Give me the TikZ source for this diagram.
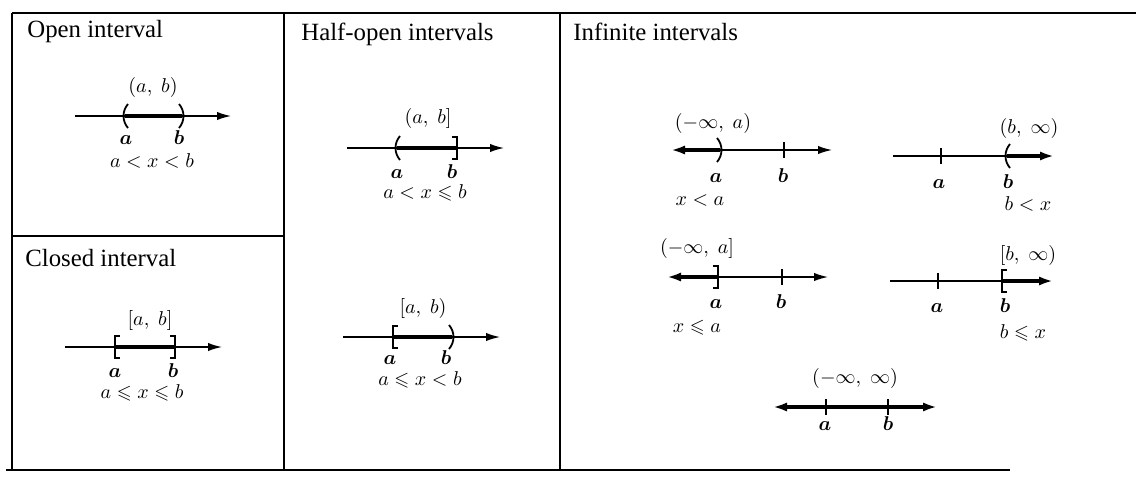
\documentclass[tikz,border=0pt]{standalone}
\usepackage{amsmath}
\usepackage{amssymb}
\usepackage{fontspec}
\setmainfont{Liberation Serif}
\usetikzlibrary{arrows.meta,calc}
% end marks on a number line, #1 = the point on the line
\newcommand{\opnL}[1]{\draw[mk] ($(#1)+(3,-12)$) .. controls ($(#1)+(-3,-5)$) and ($(#1)+(-3,5)$) .. ($(#1)+(3,12)$);}
\newcommand{\opnR}[1]{\draw[mk] ($(#1)+(-3,-12)$) .. controls ($(#1)+(3,-5)$) and ($(#1)+(3,5)$) .. ($(#1)+(-3,12)$);}
\newcommand{\clsL}[1]{\draw[mk] ($(#1)+(5,-11)$) -| ($(#1)+(0,11)$) -- ++(5,0);}
\newcommand{\clsR}[1]{\draw[mk] ($(#1)+(-5,-11)$) -| ($(#1)+(0,11)$) -- ++(-5,0);}
\newcommand{\tck}[1]{\draw[mk] ($(#1)+(0,-8)$) -- ($(#1)+(0,8)$);}

\begin{document}
\begin{tikzpicture}[x=0.5pt, y=-0.5pt, line cap=butt, line join=miter,
  frame/.style={line width=1pt},
  ttl/.style={font=\fontsize{12.4}{14}\selectfont, anchor=base west, inner sep=0pt},
  ivl/.style={font=\fontsize{9.6}{11}\selectfont, anchor=base, inner sep=0pt},
  endlbl/.style={font=\fontsize{9.6}{11}\selectfont, anchor=base, inner sep=0pt},
  axis/.style={line width=0.75pt, -{Latex[length=7pt,width=4.2pt]}},
  ray/.style={line width=1.7pt},
  rayR/.style={line width=1.7pt, -{Latex[length=7pt,width=4.6pt]}},
  rayL/.style={line width=1.7pt, {Latex[length=7pt,width=4.6pt]}-},
  mk/.style={line width=0.9pt}]
\useasboundingbox (0,0) rectangle (1146,483);

% ---------------------------------------------------------------- frame
\draw[frame] (12,13) -- (1136,13);
\draw[frame] (12,13) -- (12,470);
\draw[frame] (6,470) -- (1010,470);
\draw[frame] (284,13) -- (284,470);
\draw[frame] (560,13) -- (560,470);
\draw[frame] (12,236) -- (284,236);

\node[ttl] (t-open) at (27,37) {Open interval};
\node[ttl] (t-closed) at (25,266) {Closed interval};
\node[ttl] (t-half) at (301,40) {Half-open intervals};
\node[ttl] (t-inf) at (573,40) {Infinite intervals};

% ---------------------------------------------------------------- open
\coordinate (o-s) at (75,116); \coordinate (o-e) at (231,116);
\coordinate (o-a) at (125,116); \coordinate (o-b) at (182,116);
\draw[axis] (o-s) -- (o-e);
\draw[ray] (o-a) -- (o-b);
\opnL{o-a} \opnR{o-b}
\node[ivl] (o-lab) at (153,92) {$(a,\;b)$};
\node[endlbl] (o-la) at (126,144) {$\boldsymbol{a}$};
\node[endlbl] (o-lb) at (179,144) {$\boldsymbol{b}$};
\node[ivl] (o-cond) at (152,167) {$a<x<b$};

% ---------------------------------------------------------------- closed
\coordinate (c-s) at (65,347); \coordinate (c-e) at (222,347);
\coordinate (c-a) at (115,347); \coordinate (c-b) at (175,347);
\draw[axis] (c-s) -- (c-e);
\draw[ray] (c-a) -- (c-b);
\clsL{c-a} \clsR{c-b}
\node[ivl] (c-lab) at (150,325) {$[a,\;b]$};
\node[endlbl] (c-la) at (115,377) {$\boldsymbol{a}$};
\node[endlbl] (c-lb) at (173,377) {$\boldsymbol{b}$};
\node[ivl] (c-cond) at (142,398) {$a\leqslant x\leqslant b$};

% ---------------------------------------------------------------- half-open
\coordinate (h1-s) at (347,148); \coordinate (h1-e) at (504,148);
\coordinate (h1-a) at (397,148); \coordinate (h1-b) at (457,148);
\draw[axis] (h1-s) -- (h1-e);
\draw[ray] (h1-a) -- (h1-b);
\opnL{h1-a} \clsR{h1-b}
\node[ivl] (h1-lab) at (428,123) {$(a,\;b]$};
\node[endlbl] (h1-la) at (397,178) {$\boldsymbol{a}$};
\node[endlbl] (h1-lb) at (452,178) {$\boldsymbol{b}$};
\node[ivl] (h1-cond) at (425,198) {$a<x\leqslant b$};

\coordinate (h2-s) at (343,337); \coordinate (h2-e) at (500,337);
\coordinate (h2-a) at (393,337); \coordinate (h2-b) at (452,337);
\draw[axis] (h2-s) -- (h2-e);
\draw[ray] (h2-a) -- (h2-b);
\clsL{h2-a} \opnR{h2-b}
\node[ivl] (h2-lab) at (423,313) {$[a,\;b)$};
\node[endlbl] (h2-la) at (390,364) {$\boldsymbol{a}$};
\node[endlbl] (h2-lb) at (446,364) {$\boldsymbol{b}$};
\node[ivl] (h2-cond) at (420,385) {$a\leqslant x<b$};

% ---------------------------------------------------------------- infinite
% (-inf, a)
\coordinate (i1-s) at (671,150); \coordinate (i1-e) at (832,150);
\coordinate (i1-a) at (720,150); \coordinate (i1-b) at (784,150);
\draw[axis] (i1-a) -- (i1-e);
\draw[rayL] (i1-s) -- (i1-a);
\opnR{i1-a} \tck{i1-b}
\node[ivl] (i1-lab) at (713,128) {$(-\infty,\;a)$};
\node[endlbl] (i1-la) at (716,182) {$\boldsymbol{a}$};
\node[endlbl] (i1-lb) at (783,182) {$\boldsymbol{b}$};
\node[ivl] (i1-cond) at (700,205) {$x<a$};

% (-inf, a]
\coordinate (i2-s) at (667,277); \coordinate (i2-e) at (828,277);
\coordinate (i2-a) at (718,277); \coordinate (i2-b) at (782,277);
\draw[axis] (i2-a) -- (i2-e);
\draw[rayL] (i2-s) -- (i2-a);
\clsR{i2-a} \tck{i2-b}
\node[ivl] (i2-lab) at (697,253) {$(-\infty,\;a]$};
\node[endlbl] (i2-la) at (716,308) {$\boldsymbol{a}$};
\node[endlbl] (i2-lb) at (781,308) {$\boldsymbol{b}$};
\node[ivl] (i2-cond) at (697,332) {$x\leqslant a$};

% (b, inf)
\coordinate (i3-s) at (893,156); \coordinate (i3-e) at (1054,156);
\coordinate (i3-a) at (941,156); \coordinate (i3-b) at (1007,156);
\draw[mk] (i3-s) -- (i3-b);
\draw[rayR] (i3-b) -- (i3-e);
\tck{i3-a} \opnL{i3-b}
\node[ivl] (i3-lab) at (1029,133) {$(b,\;\infty)$};
\node[endlbl] (i3-la) at (939,188) {$\boldsymbol{a}$};
\node[endlbl] (i3-lb) at (1008,188) {$\boldsymbol{b}$};
\node[ivl] (i3-cond) at (1028,210) {$b<x$};

% [b, inf)
\coordinate (i4-s) at (890,281); \coordinate (i4-e) at (1053,281);
\coordinate (i4-a) at (938,281); \coordinate (i4-b) at (1002,281);
\draw[mk] (i4-s) -- (i4-b);
\draw[rayR] (i4-b) -- (i4-e);
\tck{i4-a} \clsL{i4-b}
\node[ivl] (i4-lab) at (1028,260) {$[b,\;\infty)$};
\node[endlbl] (i4-la) at (937,312) {$\boldsymbol{a}$};
\node[endlbl] (i4-lb) at (1005,312) {$\boldsymbol{b}$};
\node[ivl] (i4-cond) at (1023,338) {$b\leqslant x$};

% (-inf, inf)
\coordinate (i5-s) at (773,407); \coordinate (i5-e) at (937,407);
\coordinate (i5-a) at (826,407); \coordinate (i5-b) at (888,407);
\draw[rayL] (i5-s) -- (i5-a);
\draw[ray] (i5-a) -- (i5-b);
\draw[rayR] (i5-b) -- (i5-e);
\tck{i5-a} \tck{i5-b}
\node[ivl] (i5-lab) at (855,383) {$(-\infty,\;\infty)$};
\node[endlbl] (i5-la) at (825,430) {$\boldsymbol{a}$};
\node[endlbl] (i5-lb) at (888,430) {$\boldsymbol{b}$};

\end{tikzpicture}
\end{document}
